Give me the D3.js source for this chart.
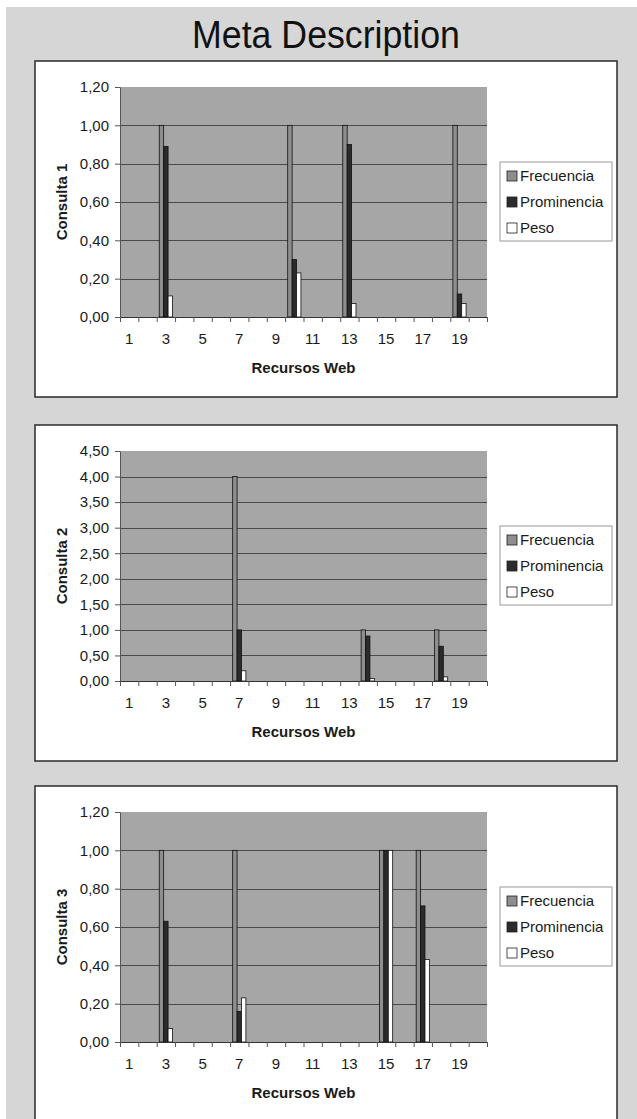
<!DOCTYPE html>
<html>
<head>
<meta charset="utf-8">
<script src="https://cdn.jsdelivr.net/npm/d3@7"></script>
<style>
body { margin: 0; background: #fff; }
svg { display: block; font-family: "Liberation Sans", Arial, sans-serif; }
</style>
</head>
<body>
<svg id="chart" width="637" height="1119"></svg>
<script>
// categories (Recursos Web) and series names
const categories = [1, 2, 3, 4, 5, 6, 7, 8, 9, 10, 11, 12, 13, 14, 15, 16, 17, 18, 19, 20];
const xTickLabels = [1, 3, 5, 7, 9, 11, 13, 15, 17, 19];
const seriesNames = ["Frecuencia", "Prominencia", "Peso"];

// Consulta 1
const frecuencia1 = [0, 0, 1.00, 0, 0, 0, 0, 0, 0, 1.00, 0, 0, 1.00, 0, 0, 0, 0, 0, 1.00, 0];
const prominencia1 = [0, 0, 0.89, 0, 0, 0, 0, 0, 0, 0.30, 0, 0, 0.90, 0, 0, 0, 0, 0, 0.12, 0];
const peso1 = [0, 0, 0.11, 0, 0, 0, 0, 0, 0, 0.23, 0, 0, 0.07, 0, 0, 0, 0, 0, 0.07, 0];
const yTicks1 = [0, 0.2, 0.4, 0.6, 0.8, 1.0, 1.2];

// Consulta 2
const frecuencia2 = [0, 0, 0, 0, 0, 0, 4.00, 0, 0, 0, 0, 0, 0, 1.00, 0, 0, 0, 1.00, 0, 0];
const prominencia2 = [0, 0, 0, 0, 0, 0, 1.00, 0, 0, 0, 0, 0, 0, 0.88, 0, 0, 0, 0.68, 0, 0];
const peso2 = [0, 0, 0, 0, 0, 0, 0.20, 0, 0, 0, 0, 0, 0, 0.05, 0, 0, 0, 0.08, 0, 0];
const yTicks2 = [0, 0.5, 1.0, 1.5, 2.0, 2.5, 3.0, 3.5, 4.0, 4.5];

// Consulta 3
const frecuencia3 = [0, 0, 1.00, 0, 0, 0, 1.00, 0, 0, 0, 0, 0, 0, 0, 1.00, 0, 1.00, 0, 0, 0];
const prominencia3 = [0, 0, 0.63, 0, 0, 0, 0.16, 0, 0, 0, 0, 0, 0, 0, 1.00, 0, 0.71, 0, 0, 0];
const peso3 = [0, 0, 0.07, 0, 0, 0, 0.23, 0, 0, 0, 0, 0, 0, 0, 1.00, 0, 0.43, 0, 0, 0];
const yTicks3 = [0, 0.2, 0.4, 0.6, 0.8, 1.0, 1.2];

let charts = [
    { label: "Consulta 1", series: [frecuencia1, prominencia1, peso1], ticks: yTicks1 },
    { label: "Consulta 2", series: [frecuencia2, prominencia2, peso2], ticks: yTicks2 },
    { label: "Consulta 3", series: [frecuencia3, prominencia3, peso3], ticks: yTicks3 }
];

let colors = { "Frecuencia": "#8e8e8e", "Prominencia": "#2b2b2b", "Peso": "#ffffff" };
let panelTops = [61, 425, 786];

let fmt = d3.formatLocale({ decimal: ",", thousands: ".", grouping: [3], currency: ["", ""] }).format(".2f");

let svg = d3.select("#chart");

// page background
svg.append("rect")
    .attr("x", 6).attr("y", 7)
    .attr("width", 631).attr("height", 1112)
    .attr("fill", "#d6d6d6");

// title is a bit condensed in the original
svg.append("text")
    .attr("transform", "translate(326,48) scale(0.94,1)")
    .attr("text-anchor", "middle")
    .style("font-size", "38px")
    .attr("fill", "#111")
    .text("Meta Description");

charts.forEach(function (c, i) {
    let g = svg.append("g").attr("transform", "translate(0," + panelTops[i] + ")");

    g.append("rect")
        .attr("x", 35).attr("y", 0)
        .attr("width", 582).attr("height", 336)
        .attr("fill", "#fff")
        .attr("stroke", "#2a2a2a")
        .attr("stroke-width", 1.5);

    let yMax = d3.max(c.ticks);
    let x = d3.scaleBand().domain(categories).range([120, 487]).paddingInner(0.28).paddingOuter(0.14);
    let xEdge = d3.scaleLinear().domain([0.5, categories.length + 0.5]).range([120, 487]);
    let xs = d3.scaleBand().domain(seriesNames).range([0, x.bandwidth()]);
    let y = d3.scaleLinear().domain([0, yMax]).range([256, 26]);

    // plot area
    g.append("rect")
        .attr("x", 120).attr("y", y(yMax))
        .attr("width", 367).attr("height", y(0) - y(yMax))
        .attr("fill", "#a6a6a6");

    g.selectAll(".grid")
        .data(c.ticks.filter(function (v) { return v > 0 && v < yMax; }))
        .enter()
        .append("line")
        .attr("x1", 120).attr("x2", 487)
        .attr("y1", function (d) { return Math.round(y(d)) + 0.5; })
        .attr("y2", function (d) { return Math.round(y(d)) + 0.5; })
        .attr("stroke", "#4a4a4a")
        .attr("stroke-width", 1);

    // bars
    let rows = [];
    categories.forEach(function (cat, k) {
        seriesNames.forEach(function (s, j) {
            if (c.series[j][k] > 0) rows.push({ cat: cat, name: s, value: c.series[j][k] });
        });
    });

    g.selectAll(".bar")
        .data(rows)
        .enter()
        .append("rect")
        .attr("x", function (d) { return x(d.cat) + xs(d.name); })
        .attr("y", function (d) { return y(d.value); })
        .attr("width", xs.bandwidth())
        .attr("height", function (d) { return y(0) - y(d.value); })
        .attr("fill", function (d) { return colors[d.name]; })
        .attr("stroke", "#111")
        .attr("stroke-width", 0.8);

    // y axis
    let yAxis = g.append("g")
        .attr("transform", "translate(120,0)")
        .call(d3.axisLeft(y).tickValues(c.ticks).tickFormat(fmt).tickSize(5).tickSizeOuter(0).tickPadding(6));
    yAxis.select(".domain").attr("stroke", "#555");
    yAxis.selectAll("line").attr("stroke", "#555");
    yAxis.selectAll("text").style("font-size", "15px").attr("fill", "#1a1a1a").attr("font-family", null);

    // x axis: tick marks between categories
    let xAxis = g.append("g")
        .attr("transform", "translate(0," + y(0) + ")")
        .call(d3.axisBottom(xEdge)
            .tickValues(categories.map(function (d) { return d - 0.5; }).concat([categories.length + 0.5]))
            .tickFormat("").tickSize(5).tickSizeOuter(0));
    xAxis.select(".domain").attr("stroke", "#333");
    xAxis.selectAll("line").attr("stroke", "#555");

    let xLabels = g.append("g")
        .attr("transform", "translate(0," + y(0) + ")")
        .call(d3.axisBottom(x).tickValues(xTickLabels).tickSize(0));
    xLabels.select(".domain").remove();
    xLabels.selectAll("text")
        .attr("y", 22).attr("dy", "0.35em")
        .style("font-size", "15px").attr("fill", "#1a1a1a").attr("font-family", null);

    // axis titles
    g.append("text")
        .attr("x", 303.5).attr("y", y(0) + 56)
        .attr("text-anchor", "middle")
        .style("font-size", "15px").style("font-weight", "bold")
        .attr("fill", "#1a1a1a")
        .text("Recursos Web");

    g.append("text")
        .attr("transform", "translate(62," + (y(0) + y(yMax)) / 2 + ") rotate(-90)")
        .attr("text-anchor", "middle")
        .attr("dy", "0.35em")
        .style("font-size", "15px").style("font-weight", "bold")
        .attr("fill", "#1a1a1a")
        .text(c.label);

    // legend
    let legend = g.append("g").attr("transform", "translate(500,101)");
    legend.append("rect")
        .attr("width", 112).attr("height", 79)
        .attr("fill", "#fff")
        .attr("stroke", "#999");
    let items = legend.selectAll(".item")
        .data(seriesNames)
        .enter()
        .append("g")
        .attr("transform", function (d, j) { return "translate(7," + (14 + j * 26) + ")"; });
    items.append("rect")
        .attr("x", 0).attr("y", -5)
        .attr("width", 10).attr("height", 10)
        .attr("fill", function (d) { return colors[d]; })
        .attr("stroke", "#222")
        .attr("stroke-width", 0.8);
    items.append("text")
        .attr("x", 13).attr("dy", "0.35em")
        .style("font-size", "15px")
        .attr("fill", "#1a1a1a")
        .text(function (d) { return d; });
});
</script>
</body>
</html>
